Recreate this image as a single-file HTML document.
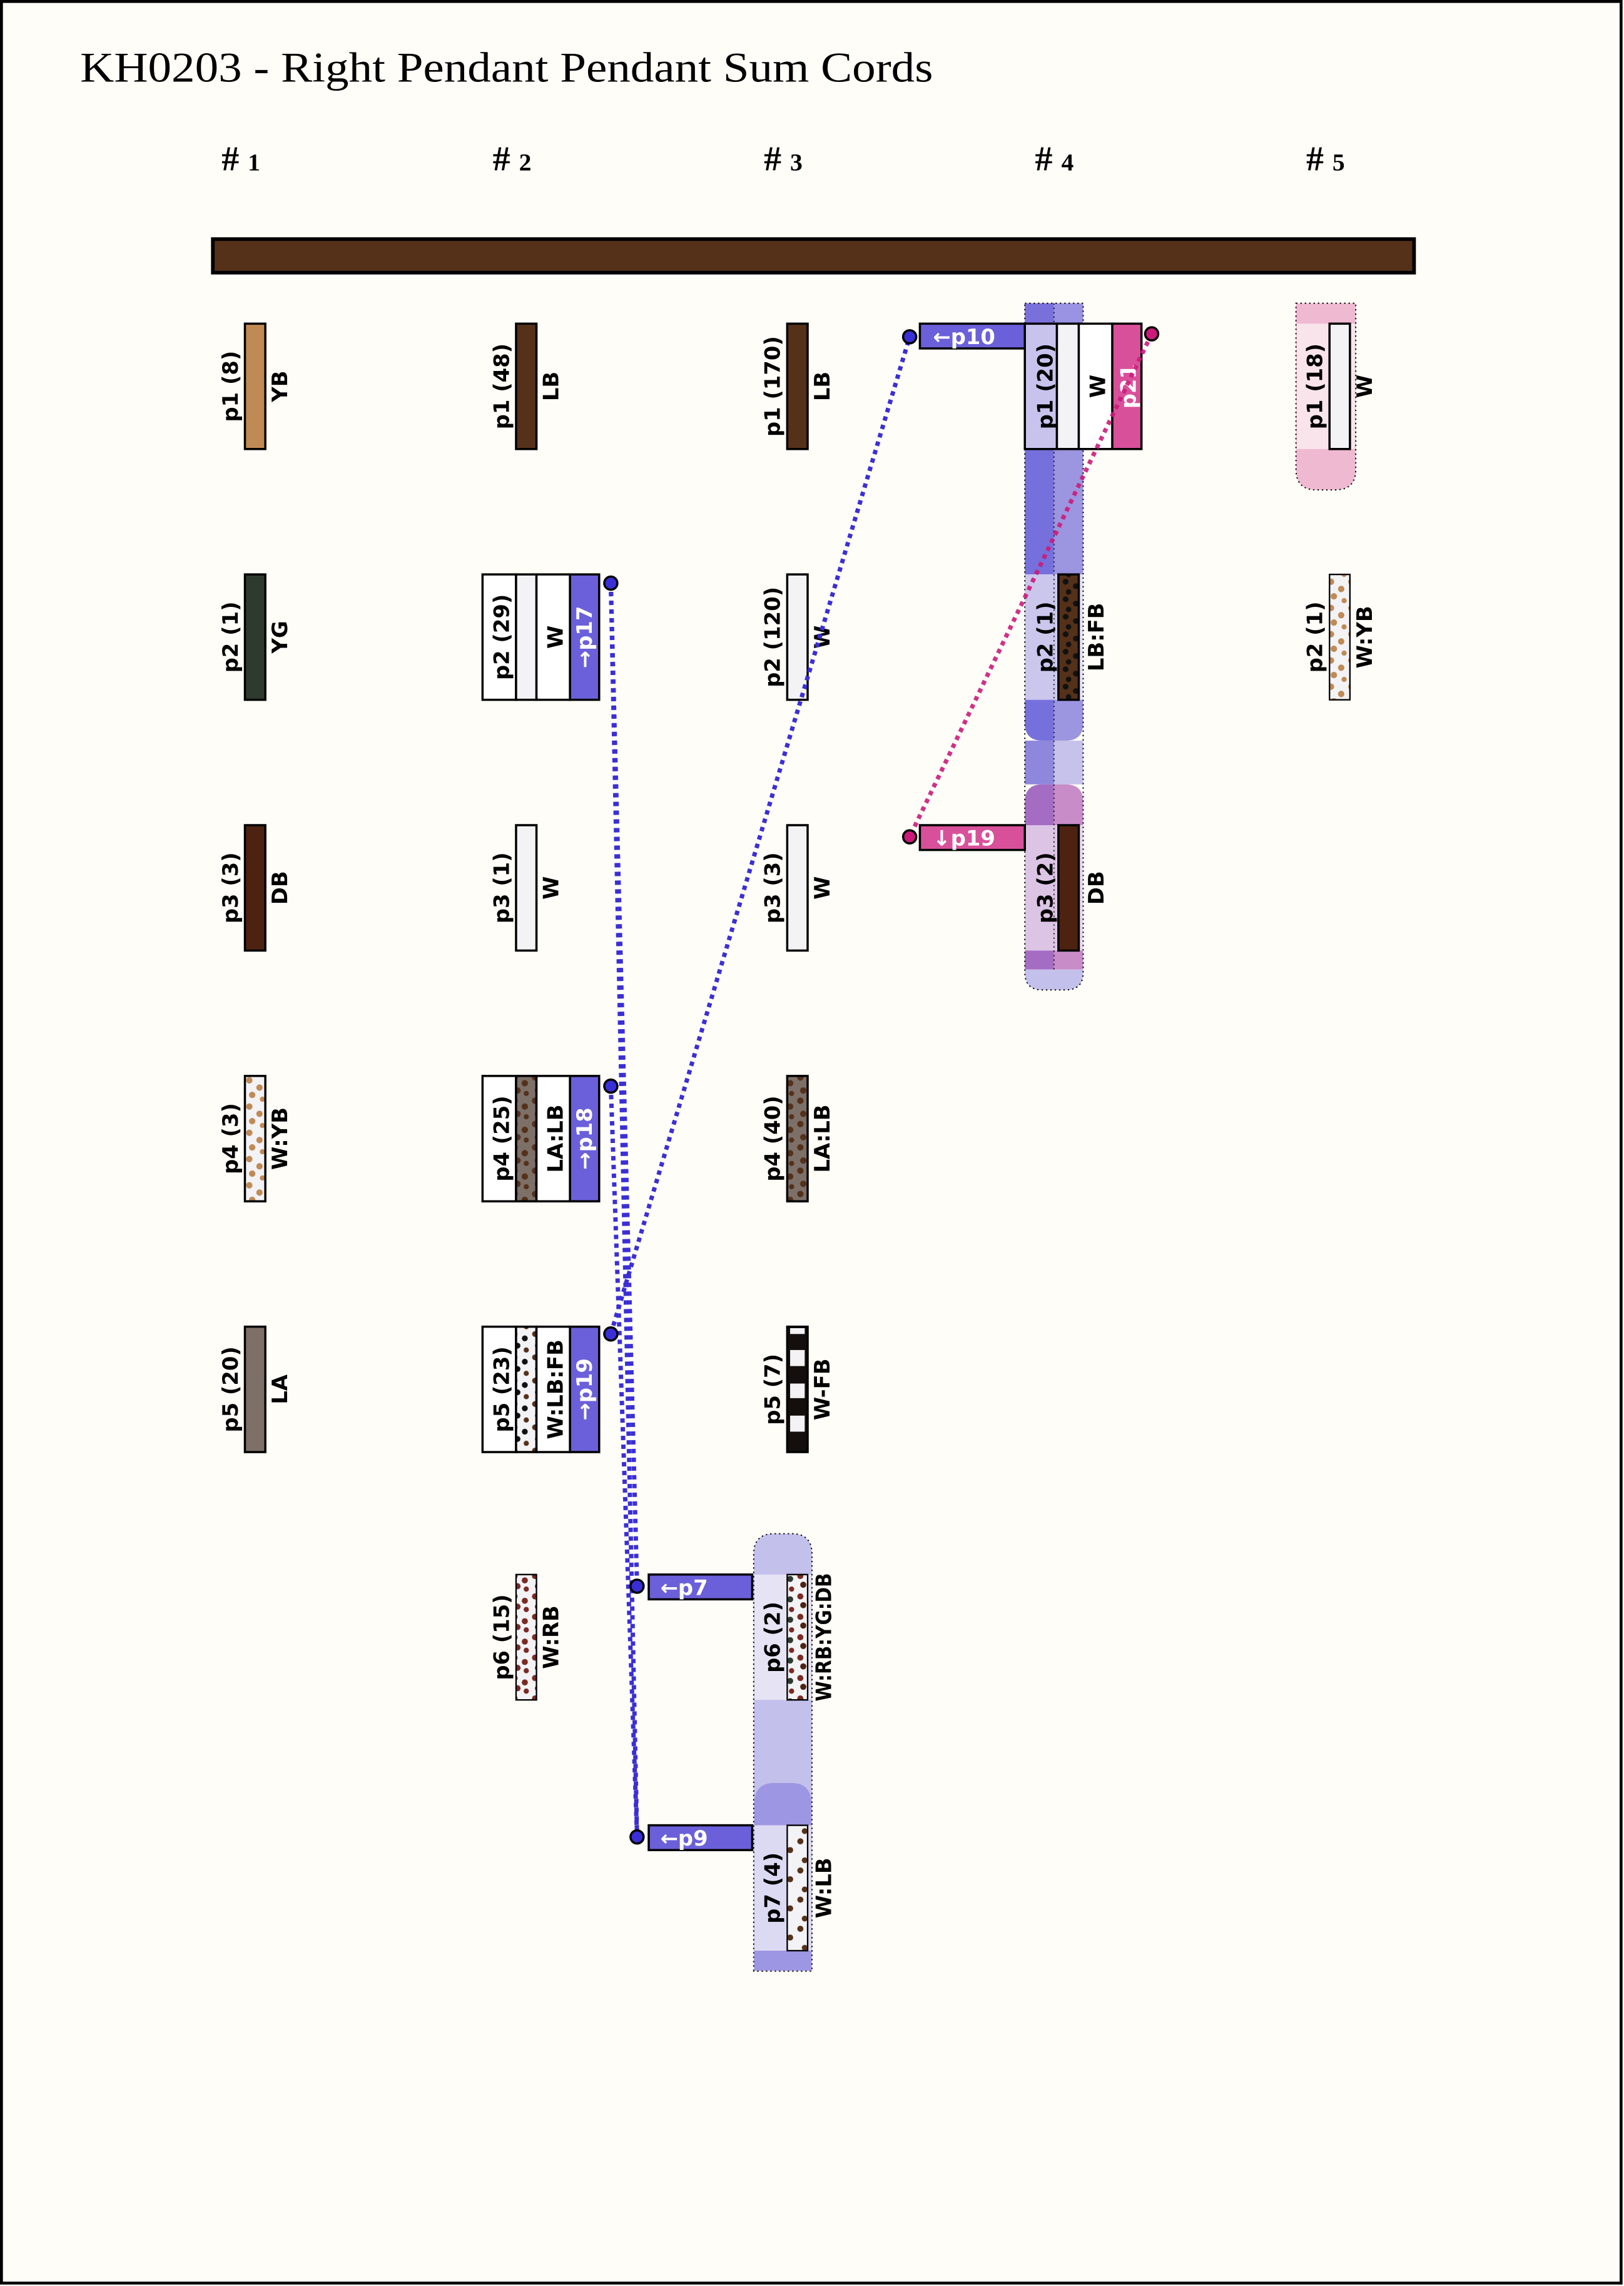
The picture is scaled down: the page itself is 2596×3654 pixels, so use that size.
<!DOCTYPE html>
<html><head><meta charset="utf-8"><style>
html,body{margin:0;padding:0;background:#fffdf7;}
svg{display:block;}
text{font-family:"DejaVu Sans","Liberation Sans",sans-serif;font-weight:bold;font-size:14.5px;}
text.t{font-family:"Liberation Serif",serif;font-weight:normal;}
text.ti{font-size:29px;}
text.h{font-size:24px;font-weight:bold;}
.w{fill:#fff;}
</style></head><body>
<svg width="2596" height="3654" viewBox="0 0 1114 1568" xmlns="http://www.w3.org/2000/svg">
<defs>
<pattern id="wyb" width="14" height="18" patternUnits="userSpaceOnUse"><rect width="14" height="18" fill="#f3f3f6"/><circle cx="3" cy="3" r="2.2" fill="#c08a55"/><circle cx="10" cy="8" r="2.2" fill="#c08a55"/><circle cx="5" cy="13" r="2.2" fill="#c08a55"/><circle cx="12" cy="16" r="1.8" fill="#c08a55"/></pattern>
<pattern id="lalb" width="14" height="16" patternUnits="userSpaceOnUse"><rect width="14" height="16" fill="#7d7068"/><circle cx="3" cy="3" r="2.2" fill="#55311a"/><circle cx="10" cy="7" r="2.2" fill="#55311a"/><circle cx="5" cy="12" r="2.2" fill="#55311a"/><circle cx="11" cy="14" r="1.8" fill="#55311a"/></pattern>
<pattern id="wlbfb" width="14" height="16" patternUnits="userSpaceOnUse"><rect width="14" height="16" fill="#f3f3f6"/><circle cx="3" cy="3" r="2" fill="#55311a"/><circle cx="10" cy="6" r="2" fill="#111"/><circle cx="5" cy="11" r="2" fill="#111"/><circle cx="11" cy="14" r="1.8" fill="#55311a"/></pattern>
<pattern id="wrb" width="14" height="14" patternUnits="userSpaceOnUse"><rect width="14" height="14" fill="#f3f3f6"/><circle cx="3" cy="3" r="2.1" fill="#7a2a22"/><circle cx="10" cy="6" r="2.1" fill="#7a2a22"/><circle cx="5" cy="10" r="2.1" fill="#7a2a22"/><circle cx="11" cy="12" r="1.8" fill="#7a2a22"/></pattern>
<pattern id="wrbyg" width="14" height="14" patternUnits="userSpaceOnUse"><rect width="14" height="14" fill="#f3f3f6"/><circle cx="3" cy="3" r="2.1" fill="#7a2a22"/><circle cx="10" cy="5" r="2.1" fill="#2f3a2e"/><circle cx="5" cy="9" r="2.1" fill="#4d2210"/><circle cx="11" cy="12" r="1.8" fill="#7a2a22"/></pattern>
<pattern id="wlb" width="14" height="20" patternUnits="userSpaceOnUse"><rect width="14" height="20" fill="#f3f3f6"/><circle cx="3" cy="3" r="2.1" fill="#55311a"/><circle cx="10" cy="9" r="2.1" fill="#55311a"/><circle cx="6" cy="16" r="2" fill="#55311a"/></pattern>
<pattern id="lbfb" width="14" height="12" patternUnits="userSpaceOnUse"><rect width="14" height="12" fill="#55311a"/><circle cx="3" cy="3" r="2" fill="#111"/><circle cx="10" cy="6" r="2" fill="#111"/><circle cx="5" cy="10" r="1.9" fill="#111"/></pattern>
</defs>
<rect x="0" y="0" width="1114" height="1568" fill="#fffdf7"/>
<rect x="1" y="1" width="1111" height="1565" fill="none" stroke="#000" stroke-width="2"/>
<text class="t ti" x="55" y="56" textLength="585" lengthAdjust="spacingAndGlyphs">KH0203 - Right Pendant Pendant Sum Cords</text>
<text class="t h" x="152" y="117">#<tspan style="font-size:17px" dx="6">1</tspan></text>
<text class="t h" x="338" y="117">#<tspan style="font-size:17px" dx="6">2</tspan></text>
<text class="t h" x="524" y="117">#<tspan style="font-size:17px" dx="6">3</tspan></text>
<text class="t h" x="710" y="117">#<tspan style="font-size:17px" dx="6">4</tspan></text>
<text class="t h" x="896" y="117">#<tspan style="font-size:17px" dx="6">5</tspan></text>
<rect x="146" y="164" width="824" height="23" fill="#55311a" stroke="#000" stroke-width="2.5"/>

<g>
<rect x="703" y="208" width="20" height="14" fill="#7a70dc"/><rect x="723" y="208" width="20" height="14" fill="#9a92e2"/>
<rect x="703" y="308" width="20" height="86" fill="#7570dc"/><rect x="723" y="308" width="20" height="86" fill="#9c95e0"/>
<rect x="703" y="394" width="22" height="86" fill="#cbc6ec"/><rect x="725" y="394" width="18" height="86" fill="#e4e2f4"/>
<rect x="703" y="508" width="20" height="30" fill="#8e87dc"/><rect x="723" y="508" width="20" height="30" fill="#c6c2ec"/>
<path d="M703 480 H723 V508 H715 Q703 508 703 496 Z" fill="#7570dc"/><path d="M723 480 H743 V496 Q743 508 731 508 H723 Z" fill="#9c95e0"/>
<path d="M703 566 V550 Q703 538 715 538 H723 V566 Z" fill="#a56cc4"/><path d="M723 538 H731 Q743 538 743 550 V566 H723 Z" fill="#c88cc8"/>
<rect x="703" y="566" width="22" height="86" fill="#dcc4e4"/><rect x="725" y="566" width="18" height="86" fill="#ead8ee"/>
<rect x="703" y="652" width="20" height="13" fill="#a56cc4"/><rect x="723" y="652" width="20" height="13" fill="#c88cc8"/>
<path d="M703 665 H743 V667 Q743 679 731 679 H715 Q703 679 703 667 Z" fill="#c4c0ec"/>
<path d="M703 208 H743 V667 Q743 679 731 679 H715 Q703 679 703 667 Z" fill="none" stroke="#000" stroke-width="0.8" stroke-dasharray="1 2"/>
<line x1="723" y1="208" x2="723" y2="665" stroke="#000" stroke-width="0.6" stroke-dasharray="1 2"/>
</g>
<path d="M889 208 H930 V322 Q930 336 916 336 H903 Q889 336 889 322 Z" fill="#efb9d2" stroke="#000" stroke-width="0.8" stroke-dasharray="1 2"/>
<rect x="889.5" y="222" width="40" height="86" fill="#fae4ec"/>
<path d="M517 1352 V1066 Q517 1052 531 1052 H543 Q557 1052 557 1066 V1352 Z" fill="#c4c0ec" stroke="#000" stroke-width="0.8" stroke-dasharray="1 2"/>
<rect x="517.5" y="1080" width="39" height="86" fill="#e6e4f4"/>
<path d="M517.5 1252 V1237 Q517.5 1223 531 1223 H543 Q556.5 1223 556.5 1237 V1252 Z" fill="#9d96e2"/>
<rect x="517.5" y="1252" width="39" height="86" fill="#dcd9f2"/>
<rect x="517.5" y="1338" width="39" height="13.5" fill="#9d96e2"/>

<g stroke="#000" stroke-width="1.5">
<rect x="168" y="222" width="14" height="86" fill="#c08a55"/>
<rect x="168" y="394" width="14" height="86" fill="#2f3a2e"/>
<rect x="168" y="566" width="14" height="86" fill="#4d2210"/>
<rect x="168" y="738" width="14" height="86" fill="url(#wyb)"/>
<rect x="168" y="910" width="14" height="86" fill="#7d7068"/>
<rect x="354" y="222" width="14" height="86" fill="#55311a"/>
<rect x="331" y="394" width="23" height="86" fill="#fff"/><rect x="354" y="394" width="14" height="86" fill="#f3f3f6"/><rect x="368" y="394" width="23" height="86" fill="#fff"/><rect x="391" y="394" width="20" height="86" fill="#6b60d9"/>
<rect x="354" y="566" width="14" height="86" fill="#f3f3f6"/>
<rect x="331" y="738" width="23" height="86" fill="#fff"/><rect x="354" y="738" width="14" height="86" fill="url(#lalb)"/><rect x="368" y="738" width="23" height="86" fill="#fff"/><rect x="391" y="738" width="20" height="86" fill="#6b60d9"/>
<rect x="331" y="910" width="23" height="86" fill="#fff"/><rect x="354" y="910" width="14" height="86" fill="url(#wlbfb)"/><rect x="368" y="910" width="23" height="86" fill="#fff"/><rect x="391" y="910" width="20" height="86" fill="#6b60d9"/>
<rect x="354" y="1080" width="14" height="86" fill="url(#wrb)" stroke-width="1"/>
<rect x="540" y="222" width="14" height="86" fill="#55311a"/>
<rect x="540" y="394" width="14" height="86" fill="#f3f3f6"/>
<rect x="540" y="566" width="14" height="86" fill="#f3f3f6"/>
<rect x="540" y="738" width="14" height="86" fill="url(#lalb)"/>
<rect x="540" y="910" width="14" height="86" fill="#140f0c"/>
<rect x="540" y="1080" width="14" height="86" fill="url(#wrbyg)" stroke-width="1"/>
<rect x="540" y="1252" width="14" height="86" fill="url(#wlb)" stroke-width="1"/>
<rect x="631" y="222" width="72" height="17" fill="#6b60d9"/>
<rect x="631" y="566" width="72" height="17" fill="#d9509a"/>
<rect x="703" y="222" width="22" height="86" fill="#c8c3ec"/><rect x="725" y="222" width="15" height="86" fill="#f3f3f6"/><rect x="740" y="222" width="23" height="86" fill="#fff"/><rect x="763" y="222" width="20" height="86" fill="#d9509a"/>
<rect x="726" y="394" width="14" height="86" fill="url(#lbfb)"/>
<rect x="726" y="566" width="14" height="86" fill="#4d2210"/>
<rect x="912" y="222" width="14" height="86" fill="#f3f3f6"/>
<rect x="912" y="394" width="14" height="86" fill="url(#wyb)" stroke-width="1"/>
<rect x="445" y="1080" width="71" height="17" fill="#6b60d9"/>
<rect x="445" y="1252" width="71" height="17" fill="#6b60d9"/>
</g>
<g fill="#f3f3f6"><rect x="542" y="911" width="10" height="4"/><rect x="542" y="926" width="10" height="11"/><rect x="542" y="949" width="10" height="10"/><rect x="542" y="971" width="10" height="11"/></g>

<g>
<text transform="translate(163,265) rotate(-90)" text-anchor="middle">p1 (8)</text><text transform="translate(197,265) rotate(-90)" text-anchor="middle">YB</text>
<text transform="translate(163,437) rotate(-90)" text-anchor="middle">p2 (1)</text><text transform="translate(197,437) rotate(-90)" text-anchor="middle">YG</text>
<text transform="translate(163,609) rotate(-90)" text-anchor="middle">p3 (3)</text><text transform="translate(197,609) rotate(-90)" text-anchor="middle">DB</text>
<text transform="translate(163,781) rotate(-90)" text-anchor="middle">p4 (3)</text><text transform="translate(197,781) rotate(-90)" text-anchor="middle">W:YB</text>
<text transform="translate(163,953) rotate(-90)" text-anchor="middle">p5 (20)</text><text transform="translate(197,953) rotate(-90)" text-anchor="middle">LA</text>

<text transform="translate(349,265) rotate(-90)" text-anchor="middle">p1 (48)</text><text transform="translate(383,265) rotate(-90)" text-anchor="middle">LB</text>
<text transform="translate(349,437) rotate(-90)" text-anchor="middle">p2 (29)</text><text transform="translate(386,437) rotate(-90)" text-anchor="middle">W</text><text class="w" transform="translate(406,437) rotate(-90)" text-anchor="middle">→p17</text>
<text transform="translate(349,609) rotate(-90)" text-anchor="middle">p3 (1)</text><text transform="translate(383,609) rotate(-90)" text-anchor="middle">W</text>
<text transform="translate(349,781) rotate(-90)" text-anchor="middle">p4 (25)</text><text transform="translate(386,781) rotate(-90)" text-anchor="middle">LA:LB</text><text class="w" transform="translate(406,781) rotate(-90)" text-anchor="middle">→p18</text>
<text transform="translate(349,953) rotate(-90)" text-anchor="middle">p5 (23)</text><text transform="translate(386,953) rotate(-90)" text-anchor="middle">W:LB:FB</text><text class="w" transform="translate(406,953) rotate(-90)" text-anchor="middle">→p19</text>
<text transform="translate(349,1123) rotate(-90)" text-anchor="middle">p6 (15)</text><text transform="translate(383,1123) rotate(-90)" text-anchor="middle">W:RB</text>

<text transform="translate(535,265) rotate(-90)" text-anchor="middle">p1 (170)</text><text transform="translate(569,265) rotate(-90)" text-anchor="middle">LB</text>
<text transform="translate(535,437) rotate(-90)" text-anchor="middle">p2 (120)</text><text transform="translate(569,437) rotate(-90)" text-anchor="middle">W</text>
<text transform="translate(535,609) rotate(-90)" text-anchor="middle">p3 (3)</text><text transform="translate(569,609) rotate(-90)" text-anchor="middle">W</text>
<text transform="translate(535,781) rotate(-90)" text-anchor="middle">p4 (40)</text><text transform="translate(569,781) rotate(-90)" text-anchor="middle">LA:LB</text>
<text transform="translate(535,953) rotate(-90)" text-anchor="middle">p5 (7)</text><text transform="translate(569,953) rotate(-90)" text-anchor="middle">W-FB</text>
<text transform="translate(535,1123) rotate(-90)" text-anchor="middle">p6 (2)</text><text transform="translate(570,1123) rotate(-90)" text-anchor="middle" textLength="88" lengthAdjust="spacingAndGlyphs">W:RB:YG:DB</text>
<text transform="translate(535,1295) rotate(-90)" text-anchor="middle">p7 (4)</text><text transform="translate(570,1295) rotate(-90)" text-anchor="middle">W:LB</text>

<text class="w" x="640" y="236">←p10</text>
<text class="w" x="640" y="580">↓p19</text>
<text class="w" x="453" y="1094">←p7</text>
<text class="w" x="453" y="1266">←p9</text>

<text transform="translate(722,265) rotate(-90)" text-anchor="middle">p1 (20)</text><text transform="translate(758,265) rotate(-90)" text-anchor="middle">W</text><text class="w" transform="translate(779,265) rotate(-90)" text-anchor="middle">p21</text>
<text transform="translate(722,437) rotate(-90)" text-anchor="middle">p2 (1)</text><text transform="translate(757,437) rotate(-90)" text-anchor="middle">LB:FB</text>
<text transform="translate(722,609) rotate(-90)" text-anchor="middle">p3 (2)</text><text transform="translate(757,609) rotate(-90)" text-anchor="middle">DB</text>

<text transform="translate(907,265) rotate(-90)" text-anchor="middle">p1 (18)</text><text transform="translate(941,265) rotate(-90)" text-anchor="middle">W</text>
<text transform="translate(907,437) rotate(-90)" text-anchor="middle">p2 (1)</text><text transform="translate(941,437) rotate(-90)" text-anchor="middle">W:YB</text>
</g>

<g fill="none" stroke="#3a2fd6" stroke-width="3" stroke-dasharray="3 3">
<line x1="419" y1="400" x2="437" y2="1260"/>
<line x1="419" y1="400" x2="437" y2="1088"/>
<line x1="419" y1="745" x2="437" y2="1260"/>
<line x1="419" y1="915" x2="624" y2="231"/>
</g>
<line x1="790" y1="229" x2="624" y2="574" stroke="#cc1a7a" stroke-width="3" stroke-dasharray="3 3" opacity="0.9"/>
<g fill="#3a2fd6" stroke="#000" stroke-width="1.5">
<circle cx="419" cy="400" r="4.5"/><circle cx="419" cy="745" r="4.5"/><circle cx="419" cy="915" r="4.5"/>
<circle cx="437" cy="1088" r="4.5"/><circle cx="437" cy="1260" r="4.5"/><circle cx="624" cy="231" r="4.5"/>
</g>
<g fill="#cc1a7a" stroke="#000" stroke-width="1.5"><circle cx="790" cy="229" r="4.5"/><circle cx="624" cy="574" r="4.5"/></g>
</svg>
</body></html>
